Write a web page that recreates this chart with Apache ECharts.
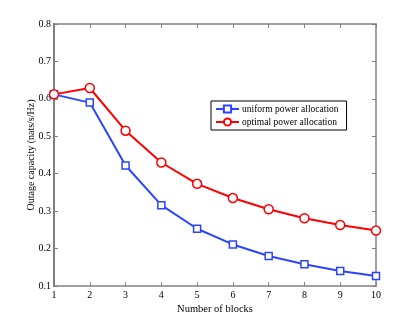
<!DOCTYPE html>
<html>
<head>
<meta charset="utf-8">
<script src="https://cdn.jsdelivr.net/npm/echarts@6/dist/echarts.min.js"></script>
<style>
  html, body { margin: 0; padding: 0; background: #fff; }
  #chart { width: 415px; height: 322px; }
</style>
</head>
<body>
<div id="chart"></div>
<script>
var blocks = [1, 2, 3, 4, 5, 6, 7, 8, 9, 10];
var uniform = [0.612, 0.590, 0.422, 0.316, 0.253, 0.211, 0.180, 0.158, 0.140, 0.127];
var optimal = [0.612, 0.629, 0.515, 0.430, 0.373, 0.335, 0.305, 0.281, 0.263, 0.248];

var serif = 'Liberation Serif';
var axisGray = '#808080';

function pairs(xs, ys) {
  return xs.map(function (x, i) { return [x, ys[i]]; });
}

var chart = echarts.init(document.getElementById('chart'));

var frameLine = { show: true, lineStyle: { color: axisGray, width: 1.5 } };
var tickIn = { show: true, inside: true, length: 4, lineStyle: { color: axisGray } };

var option = {
  animation: false,
  grid: { left: 54, right: 39, top: 24, bottom: 36 },
  legend: {
    orient: 'vertical',
    left: 211,
    top: 101,
    padding: [3, 8, 3, 4],
    itemGap: 3,
    itemWidth: 23,
    itemHeight: 9,
    backgroundColor: '#fff',
    borderColor: '#000',
    borderWidth: 1,
    textStyle: { fontFamily: serif, fontSize: 9.5, color: '#000', padding: [0, 0, 0, -2] },
    data: ['uniform power allocation', 'optimal power allocation']
  },
  xAxis: [{
    type: 'value',
    min: 1, max: 10, interval: 1,
    name: 'Number of blocks',
    nameLocation: 'middle',
    nameGap: 18,
    nameMoveOverlap: false,
    nameTextStyle: { fontFamily: serif, fontSize: 10.5, color: '#000' },
    axisLine: frameLine,
    axisTick: tickIn,
    splitLine: { show: false },
    axisLabel: { fontFamily: serif, fontSize: 10, color: '#000', margin: 4 }
  }, {
    type: 'value', position: 'top',
    min: 1, max: 10, interval: 1,
    axisLine: frameLine,
    axisTick: tickIn,
    splitLine: { show: false },
    axisLabel: { show: false }
  }],
  yAxis: [{
    type: 'value',
    min: 0.1, max: 0.8, interval: 0.1,
    name: 'Outage capacity (nats/s/Hz)',
    nameLocation: 'middle',
    nameGap: 18,
    nameMoveOverlap: false,
    nameTextStyle: { fontFamily: serif, fontSize: 10, color: '#000' },
    axisLine: { show: true, lineStyle: { color: axisGray, width: 2 } },
    axisTick: tickIn,
    splitLine: { show: false },
    axisLabel: {
      fontFamily: serif, fontSize: 10, color: '#000', margin: 3,
      formatter: function (v) { return v.toFixed(1); }
    }
  }, {
    type: 'value', position: 'right',
    min: 0.1, max: 0.8, interval: 0.1,
    axisLine: frameLine,
    axisTick: tickIn,
    splitLine: { show: false },
    axisLabel: { show: false }
  }],
  series: [{
    name: 'uniform power allocation',
    type: 'line',
    data: pairs(blocks, uniform),
    symbol: 'rect',
    symbolSize: 7,
    color: '#2b45ff',
    lineStyle: { width: 2, color: '#2b45ff' },
    itemStyle: { color: '#fff', borderColor: '#2b45ff', borderWidth: 1.5 },
    z: 3
  }, {
    name: 'optimal power allocation',
    type: 'line',
    data: pairs(blocks, optimal),
    symbol: 'circle',
    symbolSize: 9,
    color: '#ff0000',
    lineStyle: { width: 2, color: '#ff0000' },
    itemStyle: { color: '#fff', borderColor: '#ff0000', borderWidth: 1.5 },
    z: 4
  }]
};

chart.setOption(option);
</script>
</body>
</html>
